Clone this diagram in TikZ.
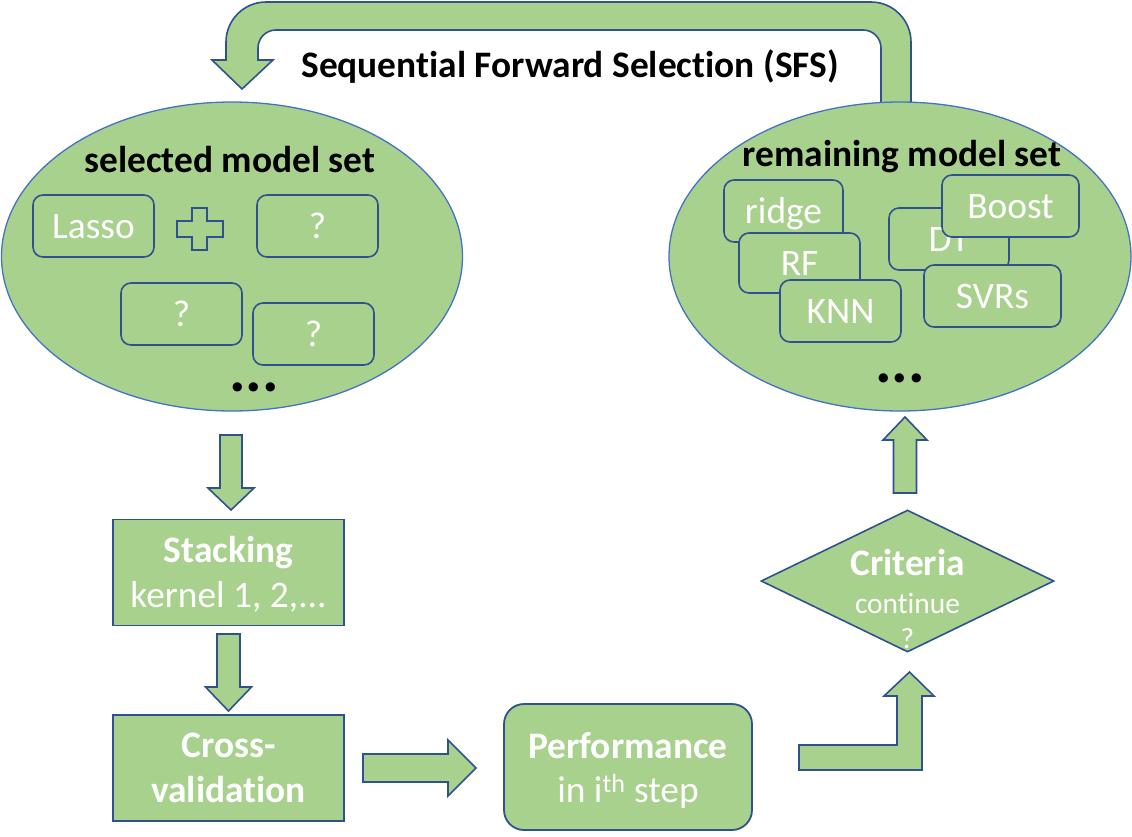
\documentclass[tikz,border=0pt]{standalone}
\usepackage{fontspec}
\setmainfont{Carlito}[Ligatures=NoCommon]
\usetikzlibrary{shapes.geometric,calc}
\definecolor{gfill}{HTML}{A9D18E}
\definecolor{bdark}{HTML}{2F528F}
\definecolor{bell}{HTML}{4472C4}
\tikzset{
  blk/.style={fill=gfill,draw=bdark,line width=1.6pt,line join=miter},
  pics/barrow/.style args={#1/#2/#3/#4}{code={
    \draw[blk] (0,-#2) -- ({#1-#4},-#2) -- ({#1-#4},-#3) -- (#1,0) -- ({#1-#4},#3) -- ({#1-#4},#2) -- (0,#2) -- cycle;}},
  ell/.style={ellipse,fill=gfill,draw=bell,line width=1.3pt,inner sep=0pt},
  mbox/.style={rectangle,rounded corners=10pt,fill=gfill,draw=bdark,line width=1.6pt,
    minimum width=121pt,minimum height=62pt,inner sep=0pt,text=white,
    font=\fontsize{37.4}{41}\selectfont,text height=24pt,text depth=0pt},
  sq/.style={rectangle,fill=gfill,draw=bdark,line width=1.8pt,
    minimum width=231pt,minimum height=106pt,inner sep=0pt},
  wl/.style={text=white,anchor=base,inner sep=0pt,font=\fontsize{37.4}{41}\selectfont},
  wb/.style={text=white,anchor=base,inner sep=0pt,font=\fontsize{37.4}{41}\selectfont\bfseries},
  ws/.style={text=white,anchor=base,inner sep=0pt,font=\fontsize{29.4}{33}\selectfont},
  ttl/.style={anchor=base,inner sep=0pt,font=\fontsize{37.4}{41}\selectfont\bfseries},
  dots/.style={anchor=base,inner sep=0pt,font=\fontsize{62}{70}\selectfont\bfseries},
}
\begin{document}
\begin{tikzpicture}[x=1pt,y=-1pt]
\useasboundingbox (0,0) rectangle (1132,836);

% U-shaped feedback arrow (SFS)
\draw[blk] (911,104) -- (911,42) .. controls (911,20) and (893,2) .. (871,2)
  -- (266,2) .. controls (244,2) and (226,20) .. (226,42)
  -- (226,60) -- (212,60) -- (242,89) -- (273,60) -- (258,60)
  -- (258,48) .. controls (258,38) and (266,30) .. (276,30)
  -- (863,30) .. controls (873,30) and (881,38) .. (881,48) -- (881,104);
\node[ttl] (sfs) at (570,77) {Sequential Forward Selection (SFS)};

% selected model set
\node[ell,minimum width=461pt,minimum height=309pt] (sel) at (232,256.5) {};
\node[ttl] (selt) at (230,172) {selected model set};
\node[mbox] (lasso) at (93.5,226) {Lasso};
\draw[blk,line width=1.3pt] (192,208) -- (207,208) -- (207,221) -- (223,221) -- (223,237)
  -- (207,237) -- (207,250) -- (192,250) -- (192,237) -- (177,237) -- (177,221) -- (192,221) -- cycle;
\node[mbox] (q1) at (317.5,226) {?};
\node[mbox] (q2) at (181.5,314) {?};
\node[mbox] (q3) at (313.5,334) {?};
\node[dots] (seld) at (254,391) {...};

% remaining model set
\node[ell,minimum width=462pt,minimum height=309pt] (rem) at (900,256.5) {};
\node[ttl] (remt) at (902,166) {remaining model set};
\node[mbox,minimum width=119pt] (ridge) at (783.5,211) {ridge};
\node[mbox,minimum height=60pt] (rf) at (799.5,263) {RF};
\node[mbox] (knn) at (840.5,311) {KNN};
\node[mbox,minimum width=120pt] (dt) at (949,239) {DT};
\node[mbox,minimum width=137pt] (boost) at (1010.5,206) {Boost};
\node[mbox,minimum width=137pt] (svr) at (992.5,296) {SVRs};
\node[dots] (remd) at (900,382) {...};

% left column
\pic[rotate=-90] at (231,435) {barrow=75/11/23/22};
\node[sq] (stk) at (228.5,572.5) {};
\node[wb] (stk1) at (228.5,562) {Stacking};
\node[wl] (stk2) at (228.5,607) {kernel 1, 2,...};
\pic[rotate=-90] at (228.5,634) {barrow=77/11.5/23/24};
\node[sq] (cv) at (228.5,768) {};
\node[wb] (cv1) at (228.5,757) {Cross-};
\node[wb] (cv2) at (228.5,802) {validation};

% performance
\pic at (363,768) {barrow=113/14/28/28};
\node[rectangle,rounded corners=20pt,fill=gfill,draw=bdark,line width=1.8pt,
  minimum width=248pt,minimum height=126pt,inner sep=0pt] (perf) at (628,767) {};
\node[wb] (perf1) at (628,758) {Performance};
\node[wl] (perf2) at (628,802) {in i\textsuperscript{th} step};

% L arrow to criteria
\draw[blk] (799,745) -- (897,745) -- (897,696) -- (884,696) -- (909.5,672) -- (934,696)
  -- (922,696) -- (922,770) -- (799,770) -- cycle;

% criteria
\node[diamond,fill=gfill,draw=bdark,line width=1.6pt,minimum width=293pt,
  minimum height=142pt,inner sep=0pt] (crit) at (907.5,581) {};
\node[wb] (crit1) at (907.5,575) {Criteria};
\node[ws] (crit2) at (907.5,613) {continue};
\node[ws] (crit3) at (907.5,648) {?};

\pic[rotate=90] at (905,493) {barrow=76/11.5/22/23};
\end{tikzpicture}
\end{document}
